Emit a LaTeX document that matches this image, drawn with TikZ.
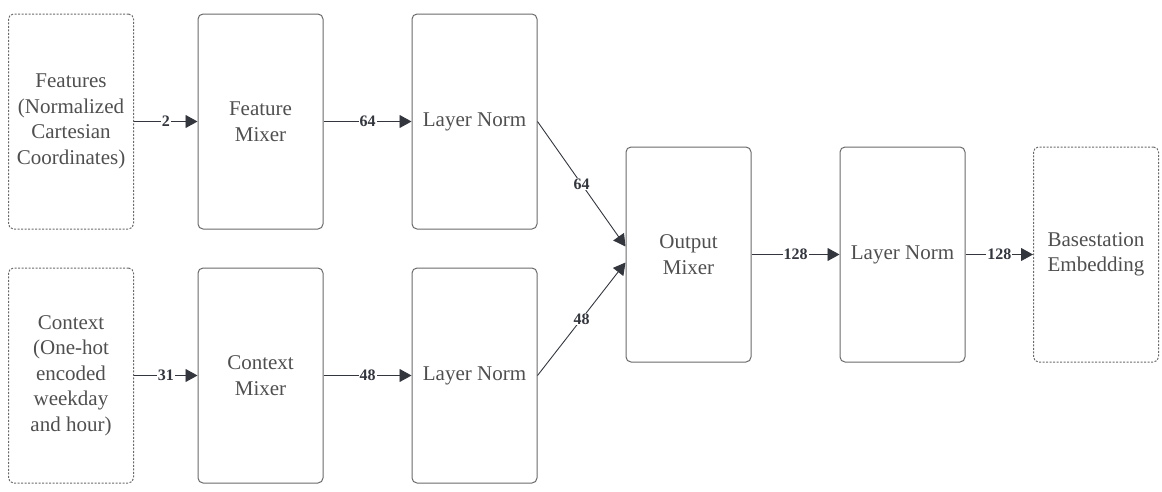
\documentclass[tikz,border=0pt]{standalone}
\usepackage{fontspec}
\setmainfont{Liberation Serif}
\usetikzlibrary{arrows.meta}
\definecolor{txt}{HTML}{4F4F4F}
\definecolor{edge}{HTML}{6A6A6A}
\definecolor{arr}{HTML}{33363D}
\begin{document}
\begin{tikzpicture}[x=1pt,y=-1pt,
 box/.style={draw=edge, line width=1pt, rounded corners=5pt, minimum width=125pt, minimum height=215pt, inner sep=0pt, align=center, text=txt, font=\fontsize{21}{25.5}\selectfont},
 inbox/.style={box, dash pattern=on 2pt off 1.5pt},
 conn/.style={draw=arr, line width=0.9pt, -{Triangle[length=12pt,width=13pt]}},
 lbl/.style={fill=white, inner sep=1pt, font=\bfseries\fontsize{16}{16}\selectfont, text=arr}]
\useasboundingbox (0,0) rectangle (1162,491);
\node[inbox] (f) at (71,121.5) {Features\\(Normalized\\Cartesian\\Coordinates)};
\node[box] (fm) at (260.5,121.5) {Feature\\Mixer};
\node[box] (ln1) at (474.5,121.5) {Layer Norm};
\node[inbox] (c) at (71,375.5) {Context\\(One-hot\\encoded\\weekday\\and hour)};
\node[box] (cm) at (260.5,375.5) {Context\\Mixer};
\node[box] (ln2) at (474.5,375.5) {Layer Norm};
\node[box] (om) at (688.5,254.5) {Output\\Mixer};
\node[box] (ln3) at (902.5,254.5) {Layer Norm};
\node[inbox] (be) at (1096,254.5) {Basestation\\Embedding};
\draw[conn] (f) -- node[lbl]{2} (fm);
\draw[conn] (fm) -- node[lbl]{64} (ln1);
\draw[conn] (c) -- node[lbl]{31} (cm);
\draw[conn] (cm) -- node[lbl]{48} (ln2);
\draw[conn] (ln1.east) -- node[lbl]{64} ([yshift=8pt]om.west);
\draw[conn] (ln2.east) -- node[lbl]{48} ([yshift=-8pt]om.west);
\draw[conn] (om) -- node[lbl]{128} (ln3);
\draw[conn] (ln3) -- node[lbl]{128} (be);
\end{tikzpicture}
\end{document}
